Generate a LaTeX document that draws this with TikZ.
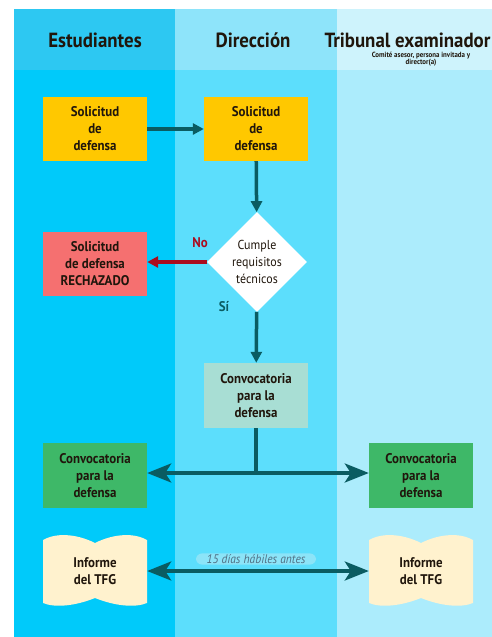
\documentclass[tikz,border=0pt]{standalone}
\usepackage{fontspec}
\setmainfont{PT Sans}[FakeStretch=0.92]
\usetikzlibrary{shapes.geometric,arrows.meta,positioning,calc}

\definecolor{carrilA}{RGB}{0,202,250}
\definecolor{carrilAcab}{RGB}{45,200,242}
\definecolor{carrilB}{RGB}{92,222,252}
\definecolor{carrilBcab}{RGB}{142,228,250}
\definecolor{carrilC}{RGB}{172,236,252}
\definecolor{carrilCcab}{RGB}{206,243,252}
\definecolor{amarillo}{RGB}{255,200,0}
\definecolor{rojizo}{RGB}{245,112,112}
\definecolor{rojoosc}{RGB}{170,12,30}
\definecolor{verdeagua}{RGB}{168,222,212}
\definecolor{verdecaja}{RGB}{62,184,104}
\definecolor{crema}{RGB}{255,242,206}
\definecolor{petroleo}{RGB}{10,92,98}
\definecolor{tinta}{RGB}{32,22,12}
\definecolor{pildora}{RGB}{140,228,248}
\definecolor{grisazul}{RGB}{80,112,132}

\begin{document}
\begin{tikzpicture}[x=1pt,y=-1pt,
    caja/.style={minimum width=104pt, minimum height=64pt, align=center,
        inner sep=2pt, text=tinta, font=\bfseries\fontsize{14}{17}\selectfont},
    cabecera/.style={text=tinta, font=\bfseries\fontsize{20.5}{22}\selectfont},
    flecha/.style={draw=petroleo, line width=3.5pt, -{Triangle[length=11pt,width=11pt]}},
    doble/.style={draw=petroleo, line width=3.5pt,
        {Stealth[length=24pt,width=19pt,inset=6pt]}-{Stealth[length=24pt,width=19pt,inset=6pt]}}]
    \useasboundingbox (0,0) rectangle (492,637);

    % Lanes
    \fill[carrilAcab] (14,9) rectangle (175,70);
    \fill[carrilBcab] (175,9) rectangle (337,70);
    \fill[carrilCcab] (337,9) rectangle (492,70);
    \fill[carrilA] (14,70) rectangle (175,637);
    \fill[carrilB] (175,70) rectangle (337,637);
    \fill[carrilC] (337,70) rectangle (492,637);

    % Headers
    \node[cabecera] (estud) at (95,40) {Estudiantes};
    \node[cabecera] (direc) at (253,40) {Dirección};
    \node[cabecera, anchor=west] (tribu) at (321,40) {Tribunal examinador};
    \node[text=tinta, align=center, font=\bfseries\fontsize{7.5}{7}\selectfont]
        (comite) at (421,59) {Comité asesor, persona invitada y\\director(a)};

    % Request
    \node[caja, fill=amarillo] (solA) at (95,129) {Solicitud\\de\\defensa};
    \node[caja, fill=amarillo] (solB) at (256,129) {Solicitud\\de\\defensa};
    \draw[flecha] (solA) -- (solB);

    % Check
    \node[diamond, fill=white, minimum width=100pt, minimum height=100pt, inner sep=0pt,
        align=center, text=tinta, font=\fontsize{13}{17}\selectfont]
        (cumple) at (257,262) {Cumple\\requisitos\\técnicos};
    \draw[flecha] (solB) -- (cumple);

    \node[caja, fill=rojizo] (rechazo) at (95,264) {Solicitud\\de defensa\\RECHAZADO};
    \draw[flecha, draw=rojoosc] (cumple) -- (rechazo.east |- cumple);
    \node[text=rojoosc, font=\bfseries\fontsize{14}{14}\selectfont] (no) at (200,243) {No};
    \node[text=petroleo, font=\bfseries\fontsize{14}{14}\selectfont] (si) at (224,307) {Sí};

    % Call
    \node[caja, fill=verdeagua, minimum height=65pt] (convB) at (256,395.5) {Convocatoria\\para la\\defensa};
    \draw[flecha] (cumple) -- (convB);

    \node[caja, fill=verdecaja, minimum height=65pt] (convA) at (95,475.5) {Convocatoria\\para la\\defensa};
    \node[caja, fill=verdecaja, minimum height=65pt] (convC) at (421,475.5) {Convocatoria\\para la\\defensa};
    \coordinate (cruce) at (256,473);
    \draw[petroleo, line width=3.5pt] (convB) -- (cruce);
    \draw[doble] (convA.east |- cruce) -- (convC.west |- cruce);

    % Reports
    \foreach \nombre/\px in {infA/95, infC/421} {
        \fill[crema, shift={(\px,571)}] (-52,-31) .. controls (-40,-38) and (-20,-38) .. (0,-28)
            .. controls (20,-38) and (40,-38) .. (52,-31) -- (52,32)
            .. controls (40,37) and (20,35) .. (0,27)
            .. controls (-20,35) and (-40,37) .. (-52,32) -- cycle;
        \node[caja, minimum height=60pt] (\nombre) at (\px,571) {Informe\\del TFG};
    }
    \node[fill=pildora, rounded corners=6pt, inner sep=1pt, minimum width=120pt,
        text=grisazul, font=\itshape\fontsize{12.5}{13}\selectfont] (plazo) at (256,559) {15 días hábiles antes};
    \draw[doble] (infA.east |- 0,571) -- (infC.west |- 0,571);
\end{tikzpicture}
\end{document}
